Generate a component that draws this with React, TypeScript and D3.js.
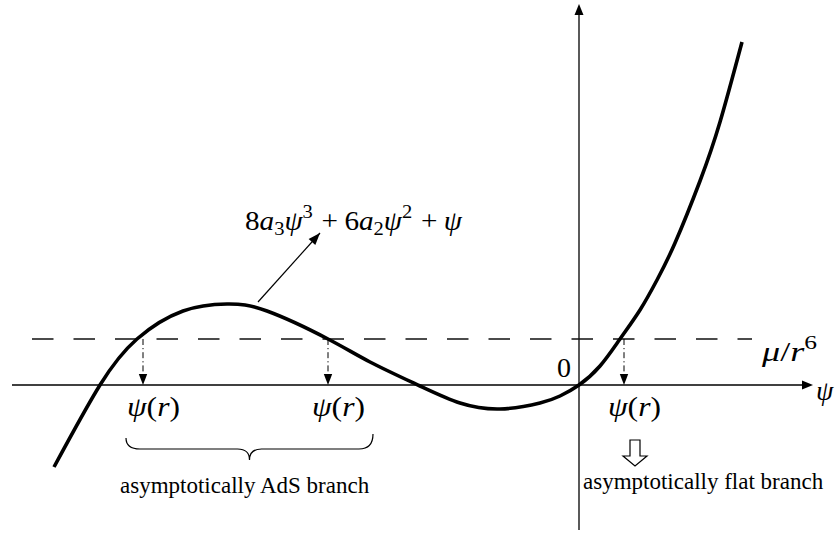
import React from 'react';
import * as d3 from 'd3';

const W = 835;
const H = 533;

// Curve samples (psi, f(psi))
const psiValues = [-10.5, -9.58, -8.84, -7.92, -7.04, -6.24, -5.02, -4.18, -3.18, -2.38, -1.58, -0.78, -0.38, 0, 0.42, 0.82, 1.22, 1.56, 1.92, 2.42, 2.82, 3.26];
const fValues = [-1.64, 0, 0.92, 1.48, 1.62, 1.48, 0.92, 0.46, -0.02, -0.36, -0.48, -0.36, -0.22, 0, 0.38, 0.92, 1.5, 2.1, 2.84, 4.08, 5.26, 6.86];

const muLevel = 0.92;
const rootPsi = [-8.72, -5.02, 0.9];
const dashedExtent = [-10.94, 3.46];
const xAxisExtent = [-11.34, 4.68];
const yAxisExtent = [-2.9, 7.62];
const annotFrom = [-6.42, 1.66];
const annotTo = [-5.18, 3.04];

const branchLabels = ['asymptotically AdS branch', 'asymptotically flat branch'];

const FONT = '"Liberation Serif", "Times New Roman", serif';

function head(x1: number, y1: number, x2: number, y2: number, len: number, hw: number) {
  const dx = x2 - x1, dy = y2 - y1;
  const L = Math.hypot(dx, dy);
  const ux = dx / L, uy = dy / L;
  const bx = x2 - ux * len, by = y2 - uy * len;
  const px = -uy, py = ux;
  return `${x2},${y2} ${bx + px * hw},${by + py * hw} ${bx - px * hw},${by - py * hw}`;
}

export default function App() {
  const x = d3.scaleLinear().domain([-10, 4]).range([79, 779]);
  const y = d3.scaleLinear().domain([-2, 7]).range([485, 35]);

  const pts: [number, number][] = psiValues.map((p, i) => [p, fValues[i]]);
  const line = d3.line<[number, number]>().x(d => x(d[0])).y(d => y(d[1])).curve(d3.curveNatural);

  const x0 = x(0), y0 = y(0);
  const yMu = y(muLevel);

  const ax1 = x(xAxisExtent[0]), ax2 = x(xAxisExtent[1]);
  const ay1 = y(yAxisExtent[0]), ay2 = y(yAxisExtent[1]);

  const labelY = y0 + 31;

  // brace under first two labels
  const bx1 = x(rootPsi[0]) - 17;
  const bx2 = x(rootPsi[1]) + 45;
  const bm = (bx1 + bx2) / 2;
  const bt = y0 + 53;
  const bd = 22;
  const bh = bt + bd / 2;
  const brace = `M${bx1},${bt} Q${bx1},${bh} ${bx1 + 14},${bh} L${bm - 12},${bh} Q${bm},${bh} ${bm},${bt + bd} Q${bm},${bh} ${bm + 12},${bh} L${bx2 - 14},${bh} Q${bx2},${bh} ${bx2},${bt - 4}`;

  const hx = x(rootPsi[2]) + 11;
  const ht = y0 + 55;
  const hollow = `M${hx - 5},${ht} L${hx + 5},${ht} L${hx + 5},${ht + 16} L${hx + 12},${ht + 16} L${hx},${ht + 26} L${hx - 12},${ht + 16} L${hx - 5},${ht + 16} Z`;

  const fx1 = x(annotFrom[0]), fy1 = y(annotFrom[1]);
  const fx2 = x(annotTo[0]), fy2 = y(annotTo[1]);

  return (
    <div style={{ position: 'fixed', left: 0, top: 0 }}>
      <svg width={W} height={H} style={{ display: 'block', background: '#fff' }}>
        {/* axes */}
        <line x1={ax1} y1={y0} x2={ax2 - 8} y2={y0} stroke="#000" strokeWidth={1.3} />
        <polygon points={head(ax1, y0, ax2, y0, 11, 4.5)} fill="#000" />
        <line x1={x0} y1={ay1} x2={x0} y2={ay2 + 8} stroke="#000" strokeWidth={1.3} />
        <polygon points={head(x0, ay1, x0, ay2, 11, 4.5)} fill="#000" />

        {/* dashed level */}
        <line x1={x(dashedExtent[0])} y1={yMu} x2={x(dashedExtent[1])} y2={yMu} stroke="#111" strokeWidth={1.3} strokeDasharray="21.5,20" />

        {/* dash-dot drop arrows */}
        {rootPsi.map((r, i) => (
          <g key={i}>
            <line x1={x(r)} y1={yMu} x2={x(r)} y2={y0 - 9} stroke="#000" strokeWidth={1} strokeDasharray="6,3,1.2,3" />
            <polygon points={head(x(r), yMu, x(r), y0, 11, 4.2)} fill="#000" />
          </g>
        ))}

        {/* curve */}
        <path d={line(pts) || ''} fill="none" stroke="#000" strokeWidth={3.6} strokeLinejoin="round" />

        {/* annotation arrow */}
        <line x1={fx1} y1={fy1} x2={fx2} y2={fy2} stroke="#000" strokeWidth={1.2} />
        <polygon points={head(fx1, fy1, fx2, fy2, 12, 4.5)} fill="#000" />

        {/* formula */}
        <text x={245} y={230} fontFamily={FONT} fontSize={27} fill="#000" textLength={217} lengthAdjust="spacingAndGlyphs">
          <tspan>8</tspan>
          <tspan fontStyle="italic">a</tspan>
          <tspan fontSize={19} dy={5}>3</tspan>
          <tspan fontStyle="italic" dy={-5}>ψ</tspan>
          <tspan fontSize={19} dy={-12}>3</tspan>
          <tspan dy={12} dx={8}>+</tspan>
          <tspan dx={6}>6</tspan>
          <tspan fontStyle="italic">a</tspan>
          <tspan fontSize={19} dy={5}>2</tspan>
          <tspan fontStyle="italic" dy={-5}>ψ</tspan>
          <tspan fontSize={19} dy={-12}>2</tspan>
          <tspan dy={12} dx={8}>+</tspan>
          <tspan fontStyle="italic" dx={6}>ψ</tspan>
        </text>

        {/* psi(r) labels */}
        {rootPsi.map((r, i) => (
          <text key={i} x={x(r) - 16} y={labelY} fontFamily={FONT} fontSize={27} fill="#000" textLength={53} lengthAdjust="spacingAndGlyphs">
            <tspan fontStyle="italic">ψ</tspan>
            <tspan>(</tspan>
            <tspan fontStyle="italic">r</tspan>
            <tspan>)</tspan>
          </text>
        ))}

        {/* brace */}
        <path d={brace} fill="none" stroke="#000" strokeWidth={1.2} />

        {/* hollow arrow */}
        <path d={hollow} fill="#fff" stroke="#000" strokeWidth={1.2} />

        {/* branch labels */}
        <text x={120} y={493} fontFamily={FONT} fontSize={23} fill="#000">{branchLabels[0]}</text>
        <text x={583} y={489} fontFamily={FONT} fontSize={23} fill="#000">{branchLabels[1]}</text>

        {/* origin, mu/r^6, psi axis label */}
        <text x={x0 - 15} y={y0 - 8} textAnchor="middle" fontFamily={FONT} fontSize={28} fill="#000">0</text>
        <text x={762} y={361} fontFamily={FONT} fontSize={27} fill="#000" textLength={55} lengthAdjust="spacingAndGlyphs">
          <tspan fontStyle="italic">μ</tspan>
          <tspan>/</tspan>
          <tspan fontStyle="italic">r</tspan>
          <tspan fontSize={19} dy={-12}>6</tspan>
        </text>
        <text x={816} y={400} fontFamily={FONT} fontSize={28} fontStyle="italic" fill="#000">ψ</text>
      </svg>
    </div>
  );
}
